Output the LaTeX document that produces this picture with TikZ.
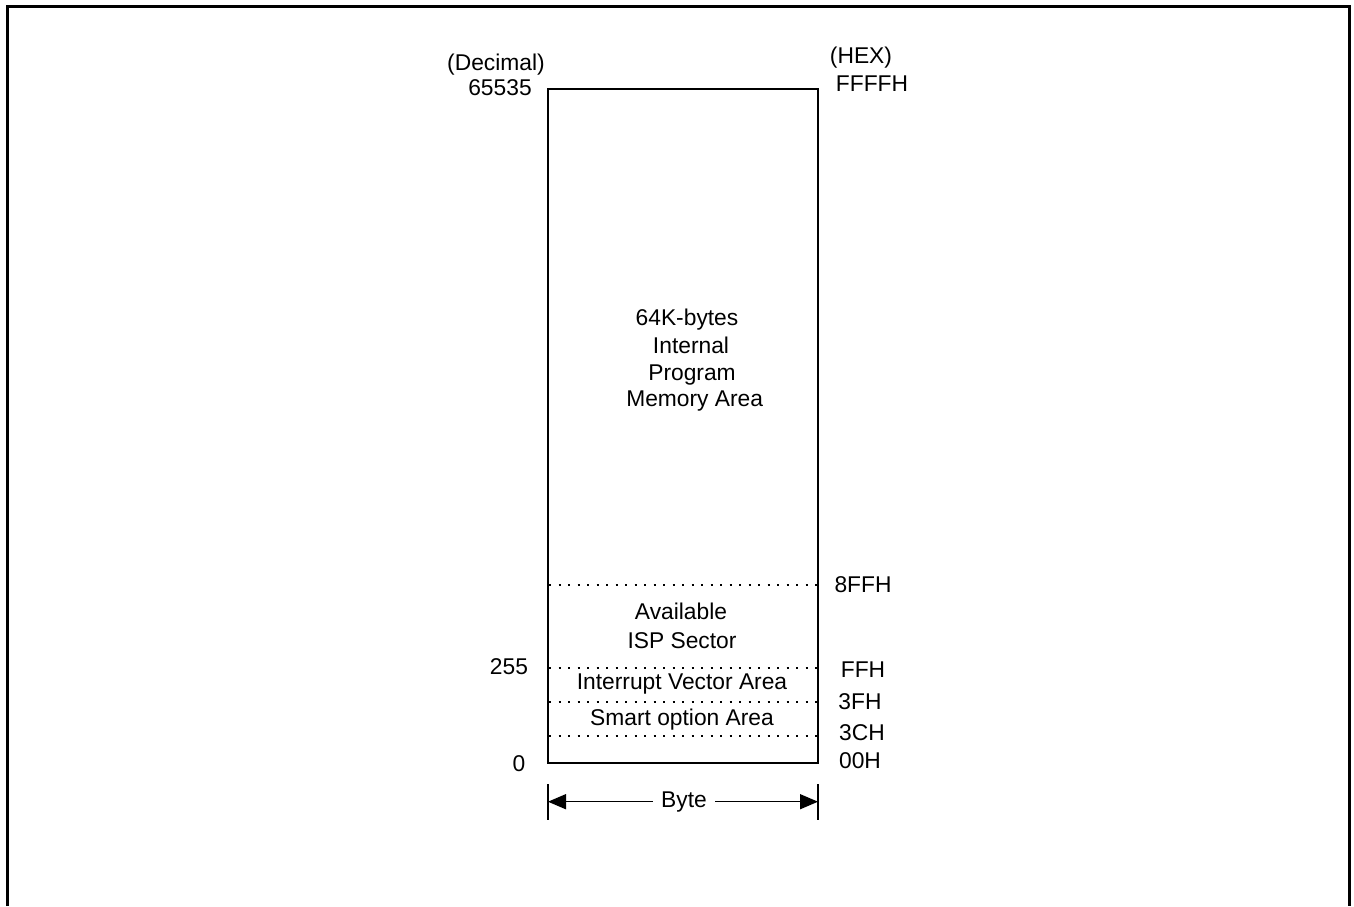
\documentclass[tikz,border=0pt]{standalone}
\usepackage{fontspec}
\setmainfont{Liberation Sans}
\usetikzlibrary{arrows.meta}
\begin{document}
\begin{tikzpicture}[x=1pt,y=-1pt,
  lbl/.style={inner sep=0pt,anchor=base,font=\fontsize{22.8}{27}\selectfont},
  sep/.style={line width=2pt,dash pattern=on 2pt off 7.5pt},
  boxline/.style={line width=1.5pt},
  frame/.style={line width=3pt}]
\useasboundingbox (0,0) rectangle (1354,906);
% outer frame (open at bottom)
\draw[frame] (7.5,906) -- (7.5,6) -- (1349,6) -- (1349,906);
% memory box
\coordinate (tl) at (548,89);
\coordinate (br) at (818,763);
\draw[boxline] (tl) rectangle (br);
% separators
\coordinate (s1l) at (549,584.5); \coordinate (s1r) at (818,584.5);
\coordinate (s2l) at (549,667.5); \coordinate (s2r) at (818,667.5);
\coordinate (s3l) at (549,701.5); \coordinate (s3r) at (818,701.5);
\coordinate (s4l) at (549,735.5); \coordinate (s4r) at (818,735.5);
\draw[sep] (s1l) -- (s1r);
\draw[sep] (s2l) -- (s2r);
\draw[sep] (s3l) -- (s3r);
\draw[sep] (s4l) -- (s4r);
% headings
\node[lbl] (dec) at (496,70) {(Decimal)};
\node[lbl] (d65535) at (500,95.7) {65535};
\node[lbl] (hex) at (861,63) {(HEX)};
\node[lbl] (hFFFF) at (872,91.7) {FFFFH};
% right labels
\node[lbl] (h8FF) at (863,592.7) {8FFH};
\node[lbl] (hFF) at (863,677.3) {FFH};
\node[lbl] (h3F) at (860,709.3) {3FH};
\node[lbl] (h3C) at (862,740.7) {3CH};
\node[lbl] (h00) at (860,768) {00H};
% left labels
\node[lbl] (d255) at (509,674.3) {255};
\node[lbl] (d0) at (519,771.7) {0};
% area texts
\node[lbl] (t1) at (687,325) {64K-bytes};
\node[lbl] (t2) at (691,353.3) {Internal};
\node[lbl] (t3) at (692,380) {Program};
\node[lbl] (t4) at (694.7,406.7) {Memory Area};
\node[lbl] (a1) at (681,619) {Available};
\node[lbl] (a2) at (682,648) {ISP Sector};
\node[lbl] (iva) at (682,689) {Interrupt Vector Area};
\node[lbl] (soa) at (682,725.7) {Smart option Area};
% byte dimension
\coordinate (bl) at (548,801.7);
\coordinate (brr) at (818,801.7);
\draw[boxline] (548,784) -- (548,820);
\draw[boxline] (818,784) -- (818,820);
\draw[boxline,{Triangle[length=18pt,width=15pt]}-{Triangle[length=18pt,width=15pt]}] (bl) -- (brr);
\node[lbl,anchor=center,fill=white,inner xsep=8pt,inner ysep=2pt] (byte) at (684,801.7) {Byte};
\end{tikzpicture}
\end{document}
